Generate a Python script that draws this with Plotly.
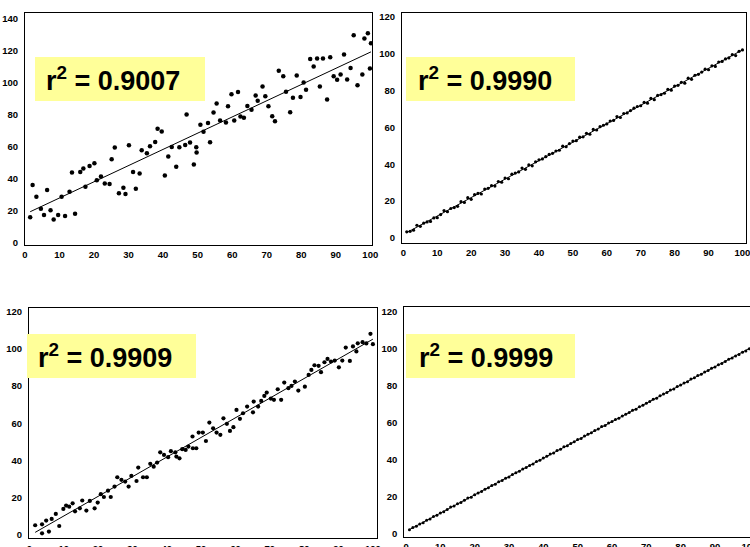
import numpy as np
import plotly.graph_objects as go

# ---------------- data ----------------
labels = ["r<sup>2</sup> = 0.9007", "r<sup>2</sup> = 0.9990",
          "r<sup>2</sup> = 0.9909", "r<sup>2</sup> = 0.9999"]

p1_x = [1.5, 2.2, 3.3, 4.6, 5.5, 6.4, 7.4, 8.3, 9.6, 10.6, 11.6, 12.9, 13.6, 14.5, 16.0, 16.9,
        17.5, 18.7, 20.1, 20.8, 22.0, 23.1, 24.5, 25.1, 26.0, 27.2, 28.5, 29.1, 30.1, 31.3, 32.1,
        33.2, 33.8, 35.3, 36.2, 37.7, 38.4, 39.6, 40.5, 41.5, 42.5, 43.8, 44.7, 46.4, 46.8, 47.8,
        48.9, 49.7,
        49.6, 50.8, 51.7, 53.0, 53.6, 54.6, 55.5, 56.5, 58.2, 58.8, 59.8, 60.6, 61.7, 62.4, 63.4,
        64.4, 65.6, 66.8, 67.4, 68.8, 69.6, 70.5, 71.6, 72.4, 73.5, 74.8, 75.6, 76.8, 77.6, 78.7,
        79.8, 80.7, 81.4, 82.6, 83.6, 84.6, 85.4, 86.3, 87.5, 88.4, 89.4, 90.4, 91.4, 92.4, 93.3,
        94.3, 95.2, 96.3, 97.7, 98.3, 99.3, 99.9, 100.2]
p1_y = [15.9, 36.0, 28.7, 21.1, 17.3, 32.9, 20.2, 14.4, 17.3, 28.7, 16.7, 31.8, 43.8, 18.0, 44.2,
        46.3, 34.9, 47.8, 49.6, 38.9, 41.3, 37.0, 36.6, 52.1, 59.4, 30.8, 34.3, 30.4, 60.8, 44.2,
        33.7, 43.2, 57.7, 55.8, 60.2, 62.9, 71.2, 69.5, 42.0, 53.8, 59.8, 47.4, 59.6, 61.0, 80.1,
        62.5, 48.8, 56.3,
        59.6, 73.6, 69.3, 74.7, 62.7, 81.3, 86.9, 76.3, 75.1, 85.2, 92.7, 76.3, 94.1, 78.8, 78.0,
        85.4, 83.0, 91.9, 88.7, 97.6, 91.4, 85.2, 79.0, 75.9, 107.4, 104.0, 94.3, 81.5, 90.6, 104.5,
        91.0, 100.1, 95.6, 114.8, 110.0, 115.0, 97.6, 115.0, 89.4, 115.9, 104.0, 101.8, 105.1, 117.5,
        102.0, 109.2, 129.6, 98.3, 105.1, 127.5, 130.8, 108.8, 124.6]

p2_x = list(range(1, 101))
p2_y = [3.2, 3.5, 4.1, 6.8, 6.2, 7.9, 8.6, 8.9, 10.8, 10.9,
        12.6, 14.8, 14.2, 15.9, 16.4, 17.1, 19.6, 19.2, 21.8, 20.9,
        23.4, 24.1, 23.8, 26.5, 26.9, 28.3, 28.1, 30.6, 30.2, 32.5,
        32.1, 34.6, 35.2, 35.8, 37.9, 37.2, 39.6, 39.1, 41.3, 42.4,
        42.9, 44.1, 45.3, 45.9, 47.2, 47.6, 49.8, 49.5, 51.2, 52.6,
        52.8, 54.7, 54.9, 56.8, 56.3, 58.9, 58.6, 60.4, 61.2, 61.9,
        63.5, 63.8, 65.9, 65.4, 67.6, 67.9, 69.2, 70.5, 71.4, 71.8,
        73.6, 73.2, 75.8, 75.1, 77.4, 77.9, 78.6, 80.7, 80.3, 82.5,
        82.9, 84.6, 84.1, 86.8, 86.2, 88.4, 88.9, 90.1, 91.7, 91.4,
        93.5, 93.2, 95.6, 95.9, 97.3, 97.8, 99.6, 99.1, 101.4, 102.2]

p3_x = [1.7, 3.7, 3.7, 4.9, 5.7, 6.5, 7.7, 8.7, 9.9, 10.7, 11.6, 12.6, 13.3, 14.7, 15.4, 16.6,
        17.6, 19.0, 19.9, 20.8, 21.7, 22.9, 23.7, 24.8, 25.6, 26.8, 27.9, 28.9, 29.7, 31.2, 31.7,
        33.1, 34.2, 35.2, 36.2, 37.2, 38.1, 39.2, 40.4, 41.2, 42.5, 42.8, 43.7, 44.5, 45.5, 46.3,
        47.5,
        47.6, 48.6, 49.3, 50.5, 51.4, 52.4, 53.5, 54.5, 55.6, 56.5, 57.5, 58.4, 59.4, 60.3, 61.3,
        62.2, 63.4, 65.1, 65.3, 66.6, 67.5, 68.4, 69.1, 70.3, 71.2, 72.3, 73.3, 74.2, 75.4, 76.3,
        77.3, 78.3, 80.2, 81.3, 82.1, 83.0, 84.2, 84.9, 85.9, 86.8, 87.8, 88.9, 90.1, 91.1, 92.1,
        93.3, 94.2, 95.2, 95.6, 97.0, 98.1, 99.3, 100.0]
p3_y = [5.2, 5.7, 0.9, 7.7, 1.8, 8.6, 11.3, 4.8, 14.0, 15.8, 15.2, 17.0, 12.7, 14.3, 18.5, 13.1,
        18.3, 14.3, 17.4, 21.9, 20.4, 23.8, 20.4, 26.0, 31.0, 29.6, 28.7, 26.0, 31.7, 29.0, 36.2,
        31.0, 31.0, 38.2, 36.7, 38.9, 44.4, 43.0, 41.8, 45.0, 44.4, 42.1, 41.2, 46.1, 45.7, 47.5,
        52.9,
        46.6, 46.6, 55.0, 55.0, 50.5, 60.4, 57.3, 55.0, 53.8, 62.7, 59.7, 55.9, 57.9, 67.2, 62.4,
        65.4, 69.0, 65.9, 71.7, 69.0, 72.0, 74.7, 76.5, 73.3, 72.6, 78.3, 72.6, 81.9, 78.9, 80.1,
        82.4, 77.6, 79.7, 86.0, 88.7, 91.2, 90.9, 87.5, 92.8, 94.6, 93.2, 93.7, 90.1, 93.7, 100.7,
        93.5, 101.3, 98.6, 103.0, 103.6, 102.9, 108.1, 102.5]

p4_x = list(range(1, 101))
p4_y = [1.9, 3.2, 3.8, 5.1, 5.7, 7.1, 7.8, 9.2, 9.8, 11.0,
        11.7, 12.9, 14.3, 14.8, 16.1, 16.7, 17.9, 19.1, 19.6, 20.9,
        21.9, 22.6, 23.9, 24.7, 25.9, 26.6, 27.9, 28.6, 29.9, 30.5,
        31.9, 32.8, 33.6, 34.9, 35.7, 36.8, 37.5, 38.9, 39.6, 40.8,
        41.7, 42.9, 43.5, 44.8, 45.6, 46.9, 47.4, 48.7, 49.6, 50.8,
        51.3, 52.7, 53.6, 54.5, 55.7, 56.5, 57.8, 58.4, 59.7, 60.5,
        61.6, 62.3, 63.6, 64.5, 65.4, 66.7, 67.2, 68.6, 69.3, 70.5,
        71.4, 72.6, 73.2, 74.5, 75.4, 76.3, 77.6, 78.2, 79.5, 80.3,
        81.4, 82.1, 83.5, 84.2, 85.4, 86.1, 87.3, 88.2, 89.4, 90.0,
        91.3, 92.0, 93.1, 94.2, 94.9, 96.0, 96.8, 98.1, 98.7, 99.9]

x_ticks = list(range(0, 101, 10))
y_ticks_1 = list(range(0, 141, 20))
y_ticks_other = list(range(0, 121, 20))

# ---------------- layout helpers ----------------
W, H = 750, 547
def px_x(p): return p / W
def px_y(p): return 1 - p / H

panels = [
    dict(x=p1_x, y=p1_y, xdom=[25, 372], ydom=[245, 13], xr=[0, 100.5], yr=[-1.5, 143.5],
         yt=y_ticks_1, ms=4.5, box=[35, 205, 57, 101], tx=44, mirror_y=True),
    dict(x=p2_x, y=p2_y, xdom=[402, 745.5], ydom=[242.7, 13.3], xr=[-0.4, 100.9], yr=[-2.7, 122.1],
         yt=y_ticks_other, ms=3.2, box=[406, 575, 57, 101], tx=416, mirror_y=True),
    dict(x=p3_x, y=p3_y, xdom=[29, 377], ydom=[538.3, 308.3], xr=[-0.1, 101.2], yr=[-1.8, 121.8],
         yt=y_ticks_other, ms=4.2, box=[27, 196, 334, 378], tx=36, mirror_y=True),
    dict(x=p4_x, y=p4_y, xdom=[404.3, 750], ydom=[536.7, 306.7], xr=[-0.5, 100.2], yr=[-1.8, 122.7],
         yt=y_ticks_other, ms=3.0, box=[406, 575, 334, 378], tx=417, mirror_y=False),
]

tickfont = dict(family="Liberation Sans Narrow, Arial Narrow, sans-serif", size=9.5,
                color="black", weight="bold")

fig = go.Figure()
layout = dict(width=W, height=H, margin=dict(l=0, r=0, t=0, b=0),
              paper_bgcolor="white", plot_bgcolor="white", showlegend=False,
              shapes=[], annotations=[])

for i, p in enumerate(panels):
    n = "" if i == 0 else str(i + 1)
    xa, ya = "x" + n, "y" + n
    xs = np.array(p["x"], dtype=float)
    ys = np.array(p["y"], dtype=float)
    m, b = np.polyfit(xs, ys, 1)
    lx = [xs.min(), xs.max()]
    ly = [m * lx[0] + b, m * lx[1] + b]
    fig.add_trace(go.Scatter(x=lx, y=ly, mode="lines", line=dict(color="black", width=1),
                             xaxis=xa, yaxis=ya, hoverinfo="skip"))
    fig.add_trace(go.Scatter(x=p["x"], y=p["y"], mode="markers",
                             marker=dict(color="black", size=p["ms"], symbol="circle",
                                         line=dict(width=0)),
                             xaxis=xa, yaxis=ya))
    layout["xaxis" + n] = dict(domain=[px_x(p["xdom"][0]), px_x(p["xdom"][1])], anchor=ya,
                               range=p["xr"], tickvals=x_ticks, ticks="", showgrid=False,
                               zeroline=False, showline=True, linecolor="black", linewidth=1,
                               mirror=True, tickfont=tickfont, automargin=False,
                               ticklabelstandoff=1, ticklabeloverflow="allow")
    layout["yaxis" + n] = dict(domain=[px_y(p["ydom"][0]), px_y(p["ydom"][1])], anchor=xa,
                               range=p["yr"], tickvals=p["yt"], ticks="", showgrid=False,
                               zeroline=False, showline=True, linecolor="black", linewidth=1,
                               mirror=p["mirror_y"], tickfont=tickfont, automargin=False,
                               ticklabelstandoff=4, ticklabeloverflow="allow")
    bx = p["box"]
    layout["shapes"].append(dict(type="rect", xref="paper", yref="paper",
                                 x0=px_x(bx[0]), x1=px_x(bx[1]), y0=px_y(bx[3]), y1=px_y(bx[2]),
                                 fillcolor="#FFFF99", line=dict(width=0), layer="above"))
    layout["annotations"].append(dict(text=labels[i], xref="paper", yref="paper",
                                      x=px_x(p["tx"]), y=px_y((bx[2] + bx[3]) / 2),
                                      xanchor="left", yanchor="middle", showarrow=False,
                                      font=dict(family="Liberation Sans, Arial, sans-serif",
                                                size=27, color="black", weight="bold")))

fig.update_layout(**layout)
fig.write_html("out.html")
